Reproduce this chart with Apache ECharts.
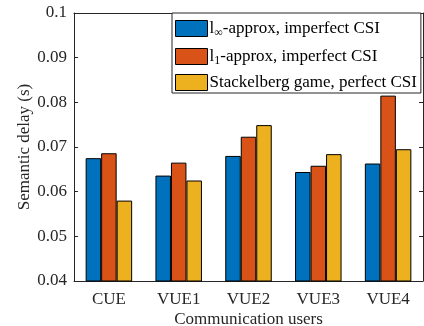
<!DOCTYPE html>
<html><head><meta charset="utf-8">
<script src="https://cdn.jsdelivr.net/npm/echarts@6/dist/echarts.min.js"></script>
<style>html,body{margin:0;padding:0;background:#fff}#c{width:424px;height:326px}</style>
</head><body><div id="c"></div>
<script>
const categories = ['CUE', 'VUE1', 'VUE2', 'VUE3', 'VUE4'];
const seriesNames = ['l∞-approx, imperfect CSI', 'l1-approx, imperfect CSI', 'Stackelberg game, perfect CSI'];
const linfApprox = [0.0675, 0.0636, 0.0680, 0.0644, 0.0663];
const l1Approx = [0.0686, 0.0665, 0.0723, 0.0658, 0.0815];
const stackelberg = [0.0580, 0.0625, 0.0749, 0.0684, 0.0695];
const yTicks = [0.04, 0.05, 0.06, 0.07, 0.08, 0.09, 0.1];
const colors = ['#0072BD', '#D95319', '#EDB120'];
const font = 'Liberation Serif';
const axisColor = '#262626';
const fs = 17;

const chart = echarts.init(document.getElementById('c'));
const legendFmt = {
  [seriesNames[0]]: '{a|l}{s|∞}{a|-approx, imperfect CSI}',
  [seriesNames[1]]: '{a|l}{s|1}{a|-approx, imperfect CSI}',
  [seriesNames[2]]: '{a|Stackelberg game, perfect CSI}'
};
const data = [linfApprox, l1Approx, stackelberg];
chart.setOption({
  animation: false,
  color: colors,
  grid: {left: 74, top: 13, right: 1, bottom: 45, containLabel: false, outerBoundsMode: 'none'},
  legend: {
    orient: 'vertical', left: 172, top: 13,
    icon: 'rect',
    itemWidth: 32, itemHeight: 16, itemGap: 7,
    padding: [5, 4, 2, 3],
    backgroundColor: '#fff', borderColor: axisColor, borderWidth: 1,
    itemStyle: {borderColor: '#000', borderWidth: 1},
    formatter: n => legendFmt[n],
    textStyle: {
      fontFamily: font, fontSize: fs, color: '#000', padding: [0, 0, 0, -3],
      rich: {
        a: {fontFamily: font, fontSize: fs, color: '#000', lineHeight: 17},
        s: {fontFamily: font, fontSize: 12, color: '#000', lineHeight: 17, padding: [9, 0, 0, 0]}
      }
    },
    data: seriesNames
  },
  xAxis: [{
    type: 'category', data: categories,
    name: 'Communication users', nameLocation: 'middle', nameGap: 30, nameMoveOverlap: false,
    nameTextStyle: {fontFamily: font, fontSize: fs, color: axisColor},
    axisLine: {lineStyle: {color: axisColor}},
    axisTick: {inside: true, alignWithLabel: true, length: 4, lineStyle: {color: axisColor}},
    axisLabel: {fontFamily: font, fontSize: fs, color: axisColor, margin: 10}
  }, {
    type: 'category', data: categories, position: 'top',
    axisLine: {lineStyle: {color: axisColor}},
    axisTick: {inside: true, alignWithLabel: true, length: 4, lineStyle: {color: axisColor}},
    axisLabel: {show: false}
  }],
  yAxis: [{
    type: 'value', min: 0.04, max: 0.1, interval: 0.01,
    name: 'Semantic delay (s)', nameLocation: 'middle', nameGap: 41, nameMoveOverlap: false,
    nameTextStyle: {fontFamily: font, fontSize: fs, color: axisColor},
    axisLine: {show: true, lineStyle: {color: axisColor}},
    axisTick: {show: true, inside: true, length: 4, lineStyle: {color: axisColor}},
    axisLabel: {fontFamily: font, fontSize: fs, color: axisColor, margin: 7,
      formatter: v => yTicks.find(t => Math.abs(t - v) < 1e-9) !== undefined ? String(+v.toFixed(2)) : ''},
    splitLine: {show: false}
  }, {
    type: 'value', min: 0.04, max: 0.1, interval: 0.01, position: 'right',
    axisLine: {show: true, lineStyle: {color: axisColor}},
    axisTick: {show: true, inside: true, length: 4, lineStyle: {color: axisColor}},
    axisLabel: {show: false}, splitLine: {show: false}
  }],
  series: seriesNames.map((n, i) => ({
    name: n, type: 'bar', data: data[i], barWidth: 15.5, barGap: '0%',
    itemStyle: {color: colors[i], borderColor: '#000', borderWidth: 1}
  }))
});
</script></body></html>
